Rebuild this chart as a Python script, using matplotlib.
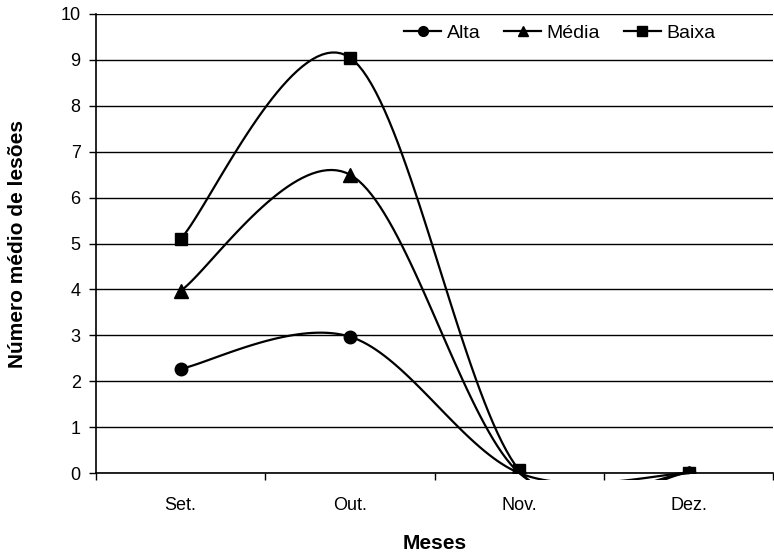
import numpy as np
import matplotlib
matplotlib.use("Agg")
from matplotlib import pyplot as plt
from matplotlib.patches import Rectangle

# data
months = ["Set.", "Out.", "Nov.", "Dez."]
alta = [2.27, 2.97, 0.0, 0.0]
media = [3.97, 6.5, 0.0, 0.0]
baixa = [5.1, 9.05, 0.06, 0.0]


def smooth_curve(xs, ys, steps=40):
    # Catmull-Rom style smoothing (like the spreadsheet "smoothed line")
    xs = np.asarray(xs, dtype=float)
    ys = np.asarray(ys, dtype=float)
    px = np.concatenate([[xs[0]], xs, [xs[-1]]])
    py = np.concatenate([[ys[0]], ys, [ys[-1]]])
    out_x, out_y = [], []
    t = np.linspace(0, 1, steps)
    for i in range(1, len(px) - 2):
        p0x, p1x, p2x, p3x = px[i - 1], px[i], px[i + 1], px[i + 2]
        p0y, p1y, p2y, p3y = py[i - 1], py[i], py[i + 1], py[i + 2]
        c1x, c1y = p1x + (p2x - p0x) / 6, p1y + (p2y - p0y) / 6
        c2x, c2y = p2x - (p3x - p1x) / 6, p2y - (p3y - p1y) / 6
        bx = (1 - t) ** 3 * p1x + 3 * (1 - t) ** 2 * t * c1x + 3 * (1 - t) * t ** 2 * c2x + t ** 3 * p2x
        by = (1 - t) ** 3 * p1y + 3 * (1 - t) ** 2 * t * c1y + 3 * (1 - t) * t ** 2 * c2y + t ** 3 * p2y
        out_x.extend(bx)
        out_y.extend(by)
    return np.array(out_x), np.array(out_y)


plt.rcParams["font.family"] = ["Liberation Sans", "DejaVu Sans"]

fig = plt.figure(figsize=(7.74, 5.55), dpi=100)
ax = fig.add_axes([0.124, 0.1477, 0.875, 0.8271])

x = np.arange(len(months))
series = [("Alta", alta, "o", 9), ("Média", media, "^", 9.5), ("Baixa", baixa, "s", 8.5)]

for name, vals, marker, ms in series:
    sx, sy = smooth_curve(x, vals)
    ln, = ax.plot(sx, sy, color="black", lw=1.6, zorder=3)
    clip = Rectangle((0, -0.016), 1, 1.03, transform=ax.transAxes, facecolor="none")
    ln.set_clip_path(clip)
    ax.plot(x, vals, linestyle="none", marker=marker, ms=ms, color="black", zorder=4)
    # legend proxy
    ax.plot([], [], color="black", lw=1.6, marker=marker, ms=ms * 0.78, label=name)

ax.set_xlim(-0.5, 3.5)
ax.set_ylim(0, 10)
ax.set_yticks(range(0, 11))
ax.yaxis.grid(True, color="black", lw=1)
ax.set_axisbelow(True)

ax.set_xticks(np.arange(-0.5, 3.6, 1.0))
ax.set_xticklabels([])
ax.set_xticks(x, minor=True)
ax.set_xticklabels(months, minor=True, fontsize=13)
ax.tick_params(axis="x", which="major", direction="out", length=5, width=1)
ax.tick_params(axis="x", which="minor", length=0, pad=17)
ax.tick_params(axis="y", direction="out", length=5, width=1, labelsize=13, pad=6)

for s in ["top", "right"]:
    ax.spines[s].set_visible(False)
ax.spines["left"].set_linewidth(1.2)
ax.spines["bottom"].set_linewidth(1.2)

ax.set_xlabel("Meses", fontsize=15, fontweight="bold", labelpad=15)
ax.set_ylabel("Número médio de lesões", fontsize=15, fontweight="bold", labelpad=24)

ax.legend(loc="center", bbox_to_anchor=(0.685, 0.958), ncol=3, frameon=False,
          fontsize=14, handlelength=1.9, columnspacing=1.2, handletextpad=0.3)

fig.savefig("out.png", dpi=100)
